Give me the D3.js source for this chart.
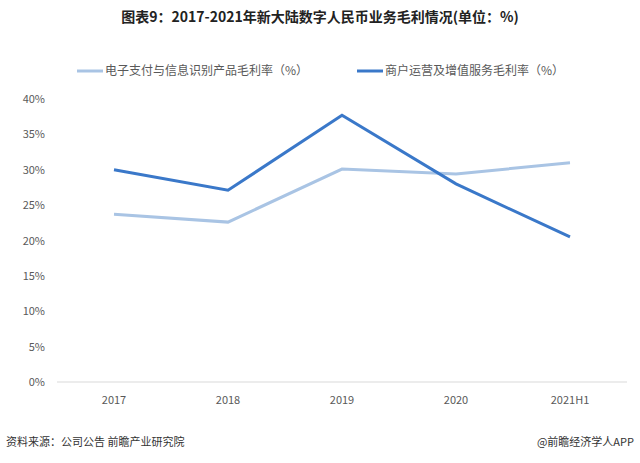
<!DOCTYPE html>
<html><head><meta charset="utf-8">
<script src="https://cdn.jsdelivr.net/npm/d3@7"></script>
<style>body{margin:0;background:#fff;font-family:"Noto Sans CJK SC","Noto Sans",sans-serif}</style>
</head><body><svg id="c" width="640" height="463"></svg>
<script>
const categories = ["2017", "2018", "2019", "2020", "2021H1"];
const payValues = [23.7, 22.6, 30.1, 29.4, 31.0];
const merchantValues = [30.0, 27.1, 37.7, 28.0, 20.5];
const yTicks = [0, 5, 10, 15, 20, 25, 30, 35, 40];
const seriesNames = ["电子支付与信息识别产品毛利率（%）", "商户运营及增值服务毛利率（%）"];

const svg = d3.select("#c");
const x = d3.scalePoint().domain(categories).range([114, 570]);
const y = d3.scaleLinear().domain([0, 40]).range([382, 99]);

svg.append("text").attr("x", 320).attr("y", 22).attr("text-anchor", "middle")
  .style("font-size", "14px").style("font-weight", "bold").attr("fill", "#222")
  .text("图表9：2017-2021年新大陆数字人民币业务毛利情况(单位：%)");

// axes
svg.append("line").attr("x1", 57).attr("x2", 627).attr("y1", y(0)).attr("y2", y(0))
  .attr("stroke", "#d9d9d9");
svg.selectAll(".yt").data(yTicks).enter().append("text")
  .attr("x", 45).attr("y", d => y(d) + 4).attr("text-anchor", "end")
  .style("font-size", "11px").attr("fill", "#595959").text(d => d + "%");
svg.selectAll(".xt").data(categories).enter().append("text")
  .attr("x", d => x(d)).attr("y", 404).attr("text-anchor", "middle")
  .style("font-size", "11px").attr("fill", "#595959").text(d => d);

const line = d3.line().x((d, i) => x(categories[i])).y(d => y(d));
const series = [
  { values: payValues, color: "#a9c4e4" },
  { values: merchantValues, color: "#3a78c9" }
];
series.forEach(s => svg.append("path").attr("d", line(s.values)).attr("fill", "none")
  .attr("stroke", s.color).attr("stroke-width", 3));

// legend
const lx = [77, 357];
seriesNames.forEach((n, i) => {
  svg.append("line").attr("x1", lx[i]).attr("x2", lx[i] + 26).attr("y1", 71).attr("y2", 71)
    .attr("stroke", series[i].color).attr("stroke-width", 3);
  svg.append("text").attr("x", lx[i] + 28).attr("y", 75).style("font-size", "12px")
    .attr("fill", "#595959").text(n);
});

// footer
svg.append("text").attr("x", 6).attr("y", 446).style("font-size", "11px").attr("fill", "#333")
  .text("资料来源：公司公告 前瞻产业研究院");
svg.append("text").attr("x", 634).attr("y", 446).attr("text-anchor", "end")
  .style("font-size", "11px").attr("fill", "#333").text("@前瞻经济学人APP");
</script></body></html>
